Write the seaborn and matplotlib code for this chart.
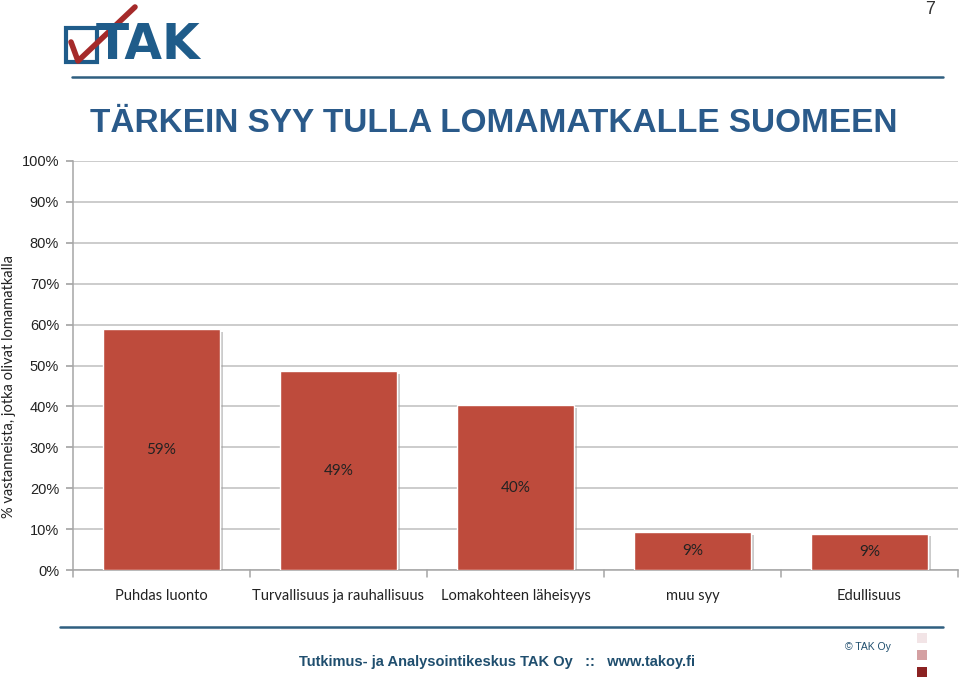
import matplotlib
matplotlib.use("Agg")
import matplotlib.pyplot as plt
import seaborn as sns
import pandas as pd
from matplotlib.patches import Rectangle
from matplotlib.lines import Line2D
import matplotlib.patheffects as pe

categories = ["Puhdas luonto", "Turvallisuus ja rauhallisuus", "Lomakohteen läheisyys", "muu syy", "Edullisuus"]
values = [58.9, 48.6, 40.3, 9.3, 8.9]
yticks = [0, 10, 20, 30, 40, 50, 60, 70, 80, 90, 100]
title = "TÄRKEIN SYY TULLA LOMAMATKALLE SUOMEEN"
ylabel = "% vastanneista, jotka olivat lomamatkalla"
footer = "Tutkimus- ja Analysointikeskus TAK Oy   ::   www.takoy.fi"

df = pd.DataFrame({"cat": categories, "val": values})

sns.set_theme(style="white")
plt.rcParams['font.family'] = ['Liberation Sans', 'DejaVu Sans']

fig = plt.figure(figsize=(9.6, 6.78), dpi=100)
ax = fig.add_axes([73/960, 108/678, 885/960, 409/678])

bar_color = "#BE4B3C"
sns.barplot(data=df, x="cat", y="val", color=bar_color, width=0.66, ax=ax,
            saturation=1, zorder=3)
for p in ax.patches:
    p.set_path_effects([pe.SimplePatchShadow(offset=(2, -2), shadow_rgbFace="#999999", alpha=0.5), pe.Normal()])

ax.set_ylim(0, 100)
ax.set_xlim(-0.5, 4.5)
ax.set_yticks(yticks)
ax.set_yticklabels([f"{t}%" for t in yticks], fontsize=10.5, color="#222222")
ax.yaxis.grid(True, color="#BFBFBF", linewidth=1.1, zorder=0)
ax.set_axisbelow(True)
for s in ["top", "right"]:
    ax.spines[s].set_visible(False)
ax.spines["left"].set_color("#A6A6A6")
ax.spines["bottom"].set_color("#A6A6A6")
ax.spines["left"].set_linewidth(1.1)
ax.spines["bottom"].set_linewidth(1.1)
ax.tick_params(axis="y", which="both", left=True, length=5, color="#A6A6A6", pad=5)
ax.set_xlabel("")
ax.set_ylabel("")

# y label as figure text
fig.text(9/960, 1 - 386/678, ylabel, rotation=90, ha="center", va="center",
         fontsize=10.5, family=["Lato", "DejaVu Sans"], color="#222222")

# x ticks between categories
ax.set_xticks(range(len(categories)))
ax.set_xticklabels(categories, fontsize=10.5, family=["Lato", "DejaVu Sans"], color="#222222")
ax.tick_params(axis="x", length=0, pad=14)
for xb in [-0.5, 0.5, 1.5, 2.5, 3.5, 4.5]:
    ax.plot([xb, xb], [0, -1.7], color="#A6A6A6", lw=1.1, clip_on=False, zorder=2)

# data labels centered
for i, v in enumerate(values):
    ax.text(i, v / 2, f"{round(v)}%", ha="center", va="center", fontsize=11,
            family=["Lato", "DejaVu Sans"], color="#222222", zorder=5)

# title
fig.text(494/960, 1 - 124/678, title, ha="center", va="center", fontsize=24,
         fontweight="bold", color="#2A5A8A")

# page number
fig.text(930/960, 1 - 10/678, "7", ha="center", va="center", fontsize=13, color="#333333")

# header line
fig.add_artist(Line2D([72/960, 943/960], [1 - 77/678, 1 - 77/678], color="#2F5F80", lw=1.8))
# footer line
fig.add_artist(Line2D([60/960, 943/960], [1 - 627/678, 1 - 627/678], color="#2F5F80", lw=1.8))

# logo
fig.add_artist(Rectangle((66/960, 1 - 62/678), 31/960, 34/678, fill=False,
                         edgecolor="#1F5C8A", lw=3))
fig.text(96/960, 1 - 45/678, "TAK", ha="left", va="center", fontsize=35,
         fontweight="heavy", color="#1F5C8A", family=["DejaVu Sans"])
fig.add_artist(Line2D([71/960, 78/960, 135/960], [1 - 42/678, 1 - 61/678, 1 - 7/678],
                      color="#A52A2A", lw=4, solid_capstyle="round"))

# footer text
fig.text(497/960, 1 - 662/678, footer, ha="center", va="center", fontsize=10.5,
         fontweight="bold", color="#1F4E6E")
fig.text(868/960, 1 - 647/678, "© TAK Oy", ha="center", va="center", fontsize=7.5,
         color="#1F4E6E")
for yy, c in [(638, "#F2E4E6"), (655, "#D4A0A2"), (672, "#8B2222")]:
    fig.add_artist(Rectangle((917/960, 1 - (yy + 5)/678), 10/960, 10/678,
                             facecolor=c, edgecolor="none"))

fig.savefig("out.png", dpi=100)
